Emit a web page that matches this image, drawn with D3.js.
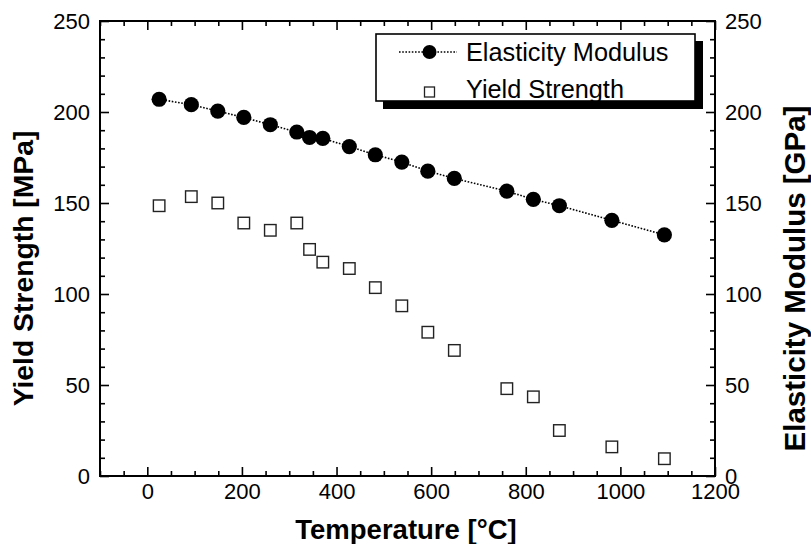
<!DOCTYPE html>
<html><head><meta charset="utf-8">
<script src="https://cdn.jsdelivr.net/npm/d3@7"></script>
<style>
body{margin:0;background:#fff;}
text{font-family:"Liberation Sans",Arial,sans-serif;}
</style></head>
<body><svg id="c" width="811" height="544"></svg>
<script>
const temperature = [25, 93, 149, 204, 260, 316, 343, 371, 427, 482, 538, 593, 649, 760, 816, 871, 982, 1093];
const elasticityModulus = [207, 204, 200.5, 197, 193, 189, 186, 185.5, 181, 176.5, 172.5, 167.5, 163.5, 156.5, 152, 148.5, 140.5, 132.5];
const yieldStrength = [148.5, 153.5, 150, 139, 135, 139, 124.5, 117.5, 114, 103.5, 93.5, 79, 69, 48, 43.5, 25, 16, 9.5];
const xTicks = [0, 200, 400, 600, 800, 1000, 1200];
const yTicks = [0, 50, 100, 150, 200, 250];
const legendLabels = ["Elasticity Modulus", "Yield Strength"];

const svg = d3.select("#c");
const L = 100, R = 715, T = 21, B = 476;
const x = d3.scaleLinear().domain([-100, 1200]).range([L, R]);
const yL = d3.scaleLinear().domain([0, 250]).range([B, T]);
const yR = d3.scaleLinear().domain([0, 250]).range([B, T]);
const fmt = d3.format("d");

const xMinor = d3.range(-100, 1201, 50).filter(v => !xTicks.includes(v));
const yMinor = d3.range(0, 251, 10).filter(v => !yTicks.includes(v));

function style(g, fs) {
  g.select(".domain").remove();
  g.selectAll("line").attr("stroke", "#000").attr("stroke-width", 1.6);
  g.selectAll("text").attr("font-size", fs).attr("fill", "#000");
}
// bottom
svg.append("g").attr("transform", `translate(0,${B})`)
  .call(d3.axisBottom(x).tickValues(xTicks).tickFormat(fmt).tickSize(-9).tickPadding(7)).call(g => style(g, 22));
svg.append("g").attr("transform", `translate(0,${B})`)
  .call(d3.axisBottom(x).tickValues(xMinor).tickSize(-5).tickFormat("")).call(g => style(g, 22));
// top
svg.append("g").attr("transform", `translate(0,${T})`)
  .call(d3.axisTop(x).tickValues(xTicks).tickSize(-9).tickFormat("")).call(g => style(g, 22));
svg.append("g").attr("transform", `translate(0,${T})`)
  .call(d3.axisTop(x).tickValues(xMinor).tickSize(-5).tickFormat("")).call(g => style(g, 22));
// left
svg.append("g").attr("transform", `translate(${L},0)`)
  .call(d3.axisLeft(yL).tickValues(yTicks).tickFormat(fmt).tickSize(-9).tickPadding(10)).call(g => style(g, 22));
svg.append("g").attr("transform", `translate(${L},0)`)
  .call(d3.axisLeft(yL).tickValues(yMinor).tickSize(-5).tickFormat("")).call(g => style(g, 22));
// right
svg.append("g").attr("transform", `translate(${R},0)`)
  .call(d3.axisRight(yR).tickValues(yTicks).tickFormat(fmt).tickSize(-9).tickPadding(10)).call(g => style(g, 22));
svg.append("g").attr("transform", `translate(${R},0)`)
  .call(d3.axisRight(yR).tickValues(yMinor).tickSize(-5).tickFormat("")).call(g => style(g, 22));

// frame
svg.append("rect").attr("x", L).attr("y", T).attr("width", R - L).attr("height", B - T)
  .attr("fill", "none").attr("stroke", "#000").attr("stroke-width", 2);

// elasticity line + circles
const mod = temperature.map((t, i) => [t, elasticityModulus[i]]);
svg.append("path").datum(mod)
  .attr("d", d3.line().x(d => x(d[0])).y(d => yR(d[1])))
  .attr("fill", "none").attr("stroke", "#000").attr("stroke-width", 1.6)
  .attr("stroke-dasharray", "1.6,1.6");
svg.append("g").selectAll("circle").data(mod).join("circle")
  .attr("cx", d => x(d[0])).attr("cy", d => yR(d[1])).attr("r", 7.6).attr("fill", "#000");

// yield squares
const ys = temperature.map((t, i) => [t, yieldStrength[i]]);
const sq = 11.5;
svg.append("g").selectAll("rect").data(ys).join("rect")
  .attr("x", d => x(d[0]) - sq / 2).attr("y", d => yL(d[1]) - sq / 2)
  .attr("width", sq).attr("height", sq)
  .attr("fill", "#fff").attr("stroke", "#222").attr("stroke-width", 1.4);

// legend
const lg = svg.append("g");
lg.append("rect").attr("x", 383).attr("y", 41).attr("width", 320).attr("height", 68).attr("fill", "#000");
lg.append("rect").attr("x", 376).attr("y", 34).attr("width", 319).attr("height", 67)
  .attr("fill", "#fff").attr("stroke", "#000").attr("stroke-width", 1.6);
lg.append("line").attr("x1", 399).attr("x2", 457).attr("y1", 52).attr("y2", 52)
  .attr("stroke", "#000").attr("stroke-width", 1.6).attr("stroke-dasharray", "1.6,1.6");
lg.append("circle").attr("cx", 429.5).attr("cy", 52).attr("r", 7).attr("fill", "#000");
lg.append("rect").attr("x", 424.5).attr("y", 87).attr("width", 10).attr("height", 10)
  .attr("fill", "#fff").attr("stroke", "#222").attr("stroke-width", 1.3);
lg.append("text").attr("x", 466).attr("y", 61).attr("font-size", 25.3).text(legendLabels[0]);
lg.append("text").attr("x", 466).attr("y", 98).attr("font-size", 25.3).text(legendLabels[1]);

// titles
svg.append("text").attr("x", 406).attr("y", 539).attr("text-anchor", "middle")
  .attr("font-size", 27.5).attr("font-weight", "bold").text("Temperature [°C]");
svg.append("text").attr("transform", "translate(33,268.5) rotate(-90)").attr("text-anchor", "middle")
  .attr("font-size", 28.3).attr("font-weight", "bold").text("Yield Strength [MPa]");
svg.append("text").attr("transform", "translate(805,278.5) rotate(-90)").attr("text-anchor", "middle")
  .attr("font-size", 29.5).attr("font-weight", "bold").text("Elasticity Modulus [GPa]");
</script></body></html>
